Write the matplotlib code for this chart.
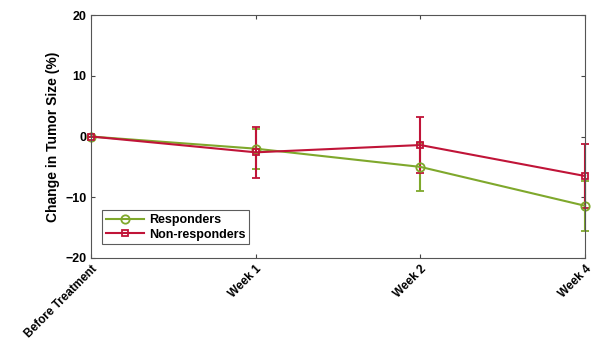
import matplotlib.pyplot as plt
import numpy as np

plt.rcParams['font.family'] = ['Liberation Sans', 'DejaVu Sans']

labels = ['Before Treatment', 'Week 1', 'Week 2', 'Week 4']
resp = [0, -2.0, -5.0, -11.4]
resp_err = [0, 3.3, 4.0, 4.1]
nonresp = [0, -2.6, -1.4, -6.5]
nonresp_err = [0, 4.2, 4.6, 5.3]

green = '#7fa82c'
red = '#c01438'

fig = plt.figure(figsize=(6, 3.51), dpi=100)
ax = fig.add_axes([0.152, 0.265, 0.823, 0.692])
x = np.arange(len(labels))
e1 = ax.errorbar(x, resp, yerr=resp_err, color=green, marker='o', ms=6, mfc='none',
                 mew=1.3, lw=1.5, capsize=3, elinewidth=1.5, clip_on=False)
e2 = ax.errorbar(x, nonresp, yerr=nonresp_err, color=red, marker='s', ms=5, mfc='none',
                 mew=1.3, lw=1.5, capsize=3, elinewidth=1.5, clip_on=False)

ax.set_xlim(0, 3)
ax.set_ylim(-20, 20)
ax.set_yticks([-20, -10, 0, 10, 20])
ax.set_xticks(x)
ax.set_xticklabels(labels, rotation=45, ha='right', rotation_mode='anchor',
                   fontweight='bold', fontsize=8.5)
for t in ax.get_yticklabels():
    t.set_fontweight('bold')
    t.set_fontsize(9)
ax.set_ylabel('Change in Tumor Size (%)', fontweight='bold', fontsize=10)
ax.tick_params(direction='in', top=True, right=True, length=3, color='#444444')
for s in ax.spines.values():
    s.set_color('#555555')

leg = ax.legend([e1[0], e2[0]], ['Responders', 'Non-responders'],
                loc='lower left', bbox_to_anchor=(0.01, 0.03), fancybox=False,
                edgecolor='#333333', prop={'weight': 'bold', 'size': 9},
                handlelength=3, borderpad=0.3, labelspacing=0.2, handletextpad=0.4)
leg.get_frame().set_linewidth(0.8)

fig.savefig('out.png')
